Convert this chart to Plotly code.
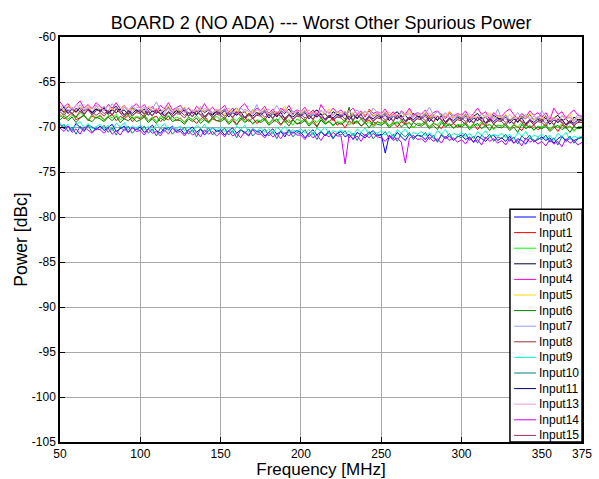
import plotly.graph_objects as go

# Frequency grid [MHz], 2.5 MHz steps from 50 to 375
freq = [50 + 2.5 * i for i in range(131)]

names = ["Input0", "Input1", "Input2", "Input3", "Input4", "Input5", "Input6",
         "Input7", "Input8", "Input9", "Input10", "Input11", "Input13", "Input14", "Input15"]

colors = ["#0000FF", "#FF0000", "#00FF00", "#000033", "#FF00CC", "#FFD700", "#008000",
          "#9999FF", "#993333", "#00FFCC", "#008080", "#000080", "#FF99CC", "#CC00FF", "#993366"]

input0 = [-69.7,-70.2,-69.9,-70.4,-69.6,-70.1,-70.5,-69.8,-70.0,-70.3,
          -69.9,-70.4,-70.0,-69.7,-70.5,-70.2,-69.9,-70.6,-70.1,-70.3,
          -70.0,-70.6,-70.2,-69.8,-70.4,-70.7,-70.1,-70.3,-69.9,-70.5,
          -70.2,-70.8,-70.3,-70.0,-70.6,-70.2,-70.9,-70.4,-70.1,-70.5,
          -70.3,-70.9,-70.4,-70.1,-70.7,-70.3,-70.6,-71.0,-70.2,-70.5,
          -70.4,-71.0,-70.6,-70.2,-70.8,-70.5,-71.1,-70.3,-70.7,-70.4,
          -70.6,-71.2,-70.7,-70.3,-70.9,-70.5,-71.0,-70.6,-71.3,-70.7,
          -70.5,-71.1,-70.8,-71.4,-70.6,-70.9,-71.2,-70.7,-70.4,-71.0,
          -70.8,-72.9,-70.9,-71.3,-70.6,-71.1,-71.5,-70.8,-71.2,-70.9,
          -71.0,-71.4,-70.8,-71.2,-71.6,-70.9,-71.3,-71.0,-71.5,-71.1,
          -70.9,-71.4,-71.1,-71.7,-71.0,-71.3,-71.6,-71.1,-70.9,-71.5,
          -71.2,-71.6,-71.0,-71.8,-71.3,-71.5,-71.9,-71.2,-71.6,-71.4,
          -71.1,-71.5,-71.2,-71.8,-71.3,-71.0,-71.6,-71.2,-71.5,-71.3,
          -71.1]
input1 = [-68.6,-69.1,-68.8,-68.4,-69.2,-68.9,-68.7,-69.3,-68.8,-69.0,
          -68.7,-69.2,-68.9,-68.6,-69.3,-68.8,-69.1,-68.7,-69.4,-68.9,
          -69.1,-68.7,-69.3,-69.0,-68.8,-69.4,-69.0,-69.2,-68.8,-69.3,
          -69.0,-69.5,-68.9,-69.2,-69.6,-69.1,-68.8,-69.4,-69.1,-69.3,
          -69.2,-68.9,-69.5,-69.1,-69.7,-69.2,-68.9,-69.4,-69.0,-69.6,
          -69.3,-69.0,-69.6,-69.2,-69.4,-69.8,-69.1,-69.5,-69.2,-69.7,
          -69.4,-69.1,-69.7,-69.3,-69.9,-69.2,-69.6,-69.4,-69.0,-69.8,
          -69.5,-70.1,-69.3,-69.7,-69.4,-69.9,-69.5,-69.2,-69.8,-69.4,
          -69.6,-69.3,-69.9,-69.5,-70.0,-69.4,-69.7,-69.5,-70.1,-69.6,
          -69.7,-69.4,-70.0,-69.6,-69.8,-70.2,-69.5,-69.9,-69.6,-70.0,
          -69.8,-69.5,-70.1,-69.7,-70.3,-69.6,-69.9,-69.7,-70.2,-69.8,
          -69.9,-69.6,-70.2,-69.8,-70.0,-70.4,-69.7,-70.1,-69.8,-70.3,
          -70.0,-69.7,-70.3,-69.9,-70.5,-69.8,-70.1,-69.9,-70.4,-70.0,
          -70.0]
input2 = [-68.9,-68.5,-69.1,-68.7,-69.0,-68.4,-68.8,-69.2,-68.6,-69.0,
          -68.8,-69.3,-68.7,-69.0,-68.6,-69.2,-68.9,-68.5,-69.1,-68.8,
          -69.0,-68.6,-69.3,-68.9,-69.4,-68.8,-69.1,-68.7,-69.2,-68.9,
          -69.1,-69.5,-68.9,-69.2,-68.7,-69.3,-69.0,-69.6,-69.1,-68.8,
          -69.2,-68.9,-69.5,-69.0,-69.3,-68.8,-69.4,-69.1,-69.7,-69.2,
          -69.3,-69.0,-69.6,-69.1,-69.4,-68.8,-69.5,-69.2,-69.8,-69.1,
          -69.4,-69.1,-69.7,-69.2,-69.5,-69.0,-69.6,-69.3,-69.9,-69.4,
          -69.5,-69.2,-69.8,-69.3,-69.6,-69.1,-69.7,-69.4,-70.0,-69.5,
          -69.6,-69.3,-69.9,-69.4,-69.7,-69.2,-69.8,-69.5,-70.1,-69.6,
          -69.7,-69.4,-70.0,-69.5,-69.8,-69.3,-69.9,-69.6,-70.2,-69.7,
          -69.8,-69.5,-70.1,-69.6,-69.9,-69.4,-70.0,-69.7,-70.3,-69.8,
          -69.9,-69.6,-70.2,-69.7,-70.0,-69.5,-70.1,-69.8,-70.4,-69.9,
          -70.0,-69.7,-70.3,-69.8,-70.1,-69.6,-70.2,-69.9,-70.5,-70.0,
          -69.9]
input3 = [-67.9,-68.3,-67.7,-68.1,-68.4,-67.8,-68.2,-67.9,-68.5,-68.0,
          -68.2,-67.8,-68.4,-68.0,-67.7,-68.3,-68.1,-68.6,-67.9,-68.2,
          -68.1,-68.5,-67.9,-68.3,-68.0,-68.6,-68.2,-67.8,-68.4,-68.1,
          -68.3,-67.9,-68.5,-68.2,-68.7,-68.0,-68.4,-68.1,-68.6,-68.2,
          -68.4,-68.0,-68.6,-68.2,-67.9,-68.5,-68.3,-68.8,-68.1,-68.4,
          -68.5,-68.1,-68.7,-68.3,-68.9,-68.2,-68.5,-68.0,-68.6,-68.3,
          -68.6,-68.2,-68.8,-68.4,-68.1,-68.7,-68.5,-69.0,-68.3,-68.6,
          -68.7,-68.3,-68.9,-68.5,-69.1,-68.4,-68.7,-68.2,-68.8,-68.5,
          -68.8,-68.4,-69.0,-68.6,-68.3,-68.9,-68.7,-69.2,-68.5,-68.8,
          -68.9,-68.5,-69.1,-68.7,-69.3,-68.6,-68.9,-68.4,-69.0,-68.7,
          -69.0,-68.6,-69.2,-68.8,-68.5,-69.1,-68.9,-69.4,-68.7,-69.0,
          -69.1,-68.7,-69.3,-68.9,-69.5,-68.8,-69.1,-68.6,-69.2,-68.9,
          -69.2,-68.8,-69.4,-69.0,-68.7,-69.3,-69.1,-69.6,-68.9,-69.2,
          -69.1]
input4 = [-67.2,-67.8,-67.4,-68.1,-67.6,-67.1,-67.9,-67.5,-68.0,-67.3,
          -67.7,-68.2,-67.5,-67.9,-67.3,-68.0,-67.6,-68.3,-67.8,-67.4,
          -67.9,-67.5,-68.2,-67.7,-68.4,-67.6,-68.0,-67.3,-68.1,-67.8,
          -67.6,-68.3,-67.9,-68.5,-67.7,-68.1,-67.4,-68.2,-67.8,-68.4,
          -68.0,-67.6,-68.4,-67.9,-68.6,-67.8,-67.4,-68.1,-68.5,-67.9,
          -68.2,-67.7,-68.5,-68.0,-68.7,-67.9,-68.3,-67.6,-68.4,-68.1,
          -68.3,-67.8,-68.6,-68.1,-68.8,-67.5,-68.2,-68.5,-67.9,-68.4,
          -68.1,-68.7,-68.3,-67.9,-68.6,-68.2,-68.9,-68.0,-68.5,-68.3,
          -68.5,-68.0,-68.8,-68.3,-69.0,-68.2,-68.6,-67.9,-68.7,-68.4,
          -68.6,-68.1,-68.9,-68.4,-68.2,-68.7,-69.1,-68.3,-68.8,-68.5,
          -68.7,-68.2,-69.0,-68.5,-67.9,-68.6,-68.3,-69.2,-68.4,-68.8,
          -68.8,-68.3,-68.0,-68.6,-69.1,-68.5,-68.9,-68.2,-68.7,-68.4,
          -68.9,-68.4,-69.2,-67.9,-68.6,-68.3,-69.0,-68.5,-68.1,-68.7,
          -68.8]
input5 = [-67.9,-68.2,-67.6,-68.0,-68.4,-67.8,-68.1,-67.7,-68.3,-67.9,
          -68.1,-67.7,-68.3,-67.9,-68.5,-68.0,-67.6,-68.2,-68.0,-68.4,
          -68.0,-68.4,-67.8,-68.2,-67.9,-68.5,-68.1,-67.7,-68.3,-68.1,
          -68.2,-67.8,-68.5,-68.1,-68.6,-68.0,-68.3,-67.9,-68.4,-68.2,
          -68.3,-68.7,-68.1,-68.4,-67.9,-68.5,-68.2,-68.8,-68.1,-68.4,
          -68.4,-68.0,-68.6,-68.2,-68.8,-68.1,-67.7,-68.5,-68.3,-68.7,
          -68.5,-68.1,-68.7,-68.3,-68.9,-68.2,-68.6,-68.0,-68.7,-68.4,
          -68.6,-68.2,-68.8,-68.4,-69.0,-68.3,-68.7,-68.1,-68.8,-68.5,
          -68.7,-68.3,-68.9,-68.5,-69.1,-68.4,-68.8,-68.2,-68.9,-68.6,
          -68.8,-68.4,-69.0,-68.6,-69.2,-68.5,-68.9,-68.3,-69.0,-68.7,
          -68.9,-68.5,-69.1,-68.7,-69.3,-68.6,-69.0,-68.4,-69.1,-68.8,
          -69.0,-68.6,-69.2,-68.8,-69.4,-68.7,-69.1,-68.5,-69.2,-68.9,
          -69.1,-68.7,-69.3,-68.9,-69.5,-68.8,-69.2,-68.6,-69.3,-69.0,
          -69.0]
input6 = [-69.2,-68.8,-69.3,-68.9,-69.5,-69.0,-68.7,-69.2,-69.4,-68.9,
          -69.1,-69.4,-68.9,-69.3,-68.8,-69.5,-69.1,-69.3,-68.9,-69.4,
          -69.2,-68.9,-69.5,-69.1,-69.6,-69.0,-69.3,-68.8,-69.4,-69.2,
          -69.3,-69.7,-69.1,-69.4,-69.0,-69.6,-69.2,-69.5,-68.9,-69.3,
          -69.4,-69.1,-69.7,-69.3,-69.8,-69.0,-69.5,-69.2,-69.6,-69.3,
          -69.5,-69.2,-69.8,-69.4,-69.1,-69.7,-69.3,-69.9,-69.2,-69.6,
          -69.6,-69.3,-69.9,-69.5,-70.0,-69.2,-69.7,-69.4,-69.8,-69.5,
          -69.7,-69.4,-67.8,-69.6,-69.3,-69.9,-69.5,-70.1,-69.4,-69.7,
          -69.8,-69.5,-70.1,-69.7,-69.4,-70.0,-69.6,-70.2,-69.5,-69.8,
          -69.9,-69.6,-70.2,-69.8,-70.3,-69.5,-70.0,-69.7,-70.1,-69.8,
          -70.0,-69.7,-70.3,-69.9,-69.6,-70.2,-69.8,-70.4,-69.7,-70.0,
          -70.1,-69.8,-70.4,-70.0,-70.6,-69.7,-70.2,-69.9,-70.3,-70.0,
          -70.2,-69.9,-70.5,-70.1,-69.8,-70.3,-70.0,-70.6,-69.9,-70.2,
          -70.1]
input7 = [-68.0,-67.6,-68.3,-67.8,-68.2,-67.5,-68.1,-67.9,-68.4,-67.7,
          -68.1,-67.7,-68.3,-67.4,-68.0,-68.4,-67.8,-68.2,-67.6,-68.1,
          -68.2,-67.8,-68.4,-68.0,-67.2,-68.1,-68.5,-67.9,-68.3,-67.8,
          -68.3,-67.9,-68.5,-68.1,-68.6,-67.7,-68.2,-68.0,-68.4,-68.1,
          -68.4,-68.0,-68.6,-68.2,-68.7,-67.9,-68.3,-68.1,-68.5,-67.5,
          -68.5,-68.1,-68.7,-68.3,-67.6,-68.4,-68.0,-68.6,-68.2,-68.5,
          -68.6,-68.2,-68.8,-68.4,-68.9,-68.1,-68.5,-68.3,-68.7,-68.2,
          -68.7,-68.3,-68.9,-68.5,-68.1,-68.6,-68.2,-68.8,-67.9,-68.4,
          -68.8,-68.4,-69.0,-68.6,-69.1,-68.3,-68.7,-68.5,-68.9,-68.4,
          -68.9,-68.5,-67.8,-68.7,-68.3,-68.8,-68.4,-69.0,-68.6,-68.9,
          -69.0,-68.6,-69.2,-68.8,-69.3,-68.5,-68.9,-68.7,-69.1,-68.0,
          -69.1,-68.7,-69.3,-68.9,-68.4,-69.0,-68.6,-69.2,-68.8,-69.1,
          -68.2,-68.8,-69.4,-69.0,-69.5,-68.7,-69.1,-68.9,-69.3,-68.6,
          -69.0]
input8 = [-68.3,-68.7,-68.1,-68.5,-68.9,-68.2,-68.6,-68.0,-68.4,-68.7,
          -68.4,-68.8,-68.2,-68.6,-68.0,-68.5,-68.9,-68.3,-68.7,-68.4,
          -68.5,-68.9,-68.3,-68.7,-68.1,-68.6,-69.0,-68.4,-68.8,-68.5,
          -68.6,-69.0,-68.4,-68.8,-68.2,-68.7,-69.1,-68.5,-68.9,-68.6,
          -68.7,-69.1,-68.5,-68.9,-68.3,-68.8,-69.2,-68.6,-69.0,-68.7,
          -68.8,-69.2,-68.6,-69.0,-68.4,-68.9,-69.3,-68.7,-69.1,-68.8,
          -68.9,-69.3,-68.7,-69.1,-68.5,-69.0,-69.4,-68.8,-69.2,-68.9,
          -69.0,-69.4,-68.8,-69.2,-68.6,-69.1,-69.5,-68.9,-69.3,-69.0,
          -69.1,-69.5,-68.9,-69.3,-68.7,-69.2,-69.6,-69.0,-69.4,-69.1,
          -69.2,-69.6,-69.0,-69.4,-68.8,-69.3,-69.7,-69.1,-69.5,-69.2,
          -69.3,-69.7,-69.1,-69.5,-68.9,-69.4,-69.8,-69.2,-69.6,-69.3,
          -69.4,-69.8,-69.2,-69.6,-69.0,-69.5,-69.9,-69.3,-69.7,-69.4,
          -69.5,-69.9,-69.3,-69.7,-69.1,-69.6,-70.0,-69.4,-69.8,-69.5,
          -69.5]
input9 = [-69.5,-70.0,-69.7,-70.3,-69.8,-69.4,-70.1,-69.6,-70.2,-69.9,
          -69.7,-70.2,-69.8,-70.4,-69.6,-70.0,-69.5,-70.3,-69.9,-70.1,
          -69.8,-70.3,-69.9,-70.5,-69.7,-70.1,-69.6,-70.4,-70.0,-70.2,
          -69.9,-70.4,-70.0,-70.6,-69.8,-70.2,-69.7,-70.5,-70.1,-70.3,
          -70.0,-70.5,-70.1,-70.7,-69.9,-70.3,-69.8,-70.6,-70.2,-70.4,
          -70.1,-70.6,-70.2,-70.8,-70.0,-70.4,-69.9,-70.7,-70.3,-70.5,
          -70.2,-70.7,-70.3,-70.9,-70.1,-70.5,-70.0,-70.8,-70.4,-70.6,
          -70.3,-70.8,-70.4,-71.0,-70.2,-70.6,-70.1,-70.9,-70.5,-70.7,
          -70.4,-70.9,-70.5,-71.1,-70.3,-70.7,-70.2,-71.0,-70.6,-70.8,
          -70.5,-71.0,-70.6,-71.2,-70.4,-70.8,-70.3,-71.1,-70.7,-70.9,
          -70.6,-71.1,-70.7,-71.3,-70.5,-70.9,-70.4,-71.2,-70.8,-71.0,
          -70.7,-71.2,-70.8,-71.4,-70.6,-71.0,-70.5,-71.3,-70.9,-71.1,
          -70.8,-71.3,-70.9,-71.5,-70.7,-71.1,-70.6,-71.4,-71.0,-71.2,
          -71.0]
input10 = [-70.2,-69.7,-70.5,-70.0,-70.8,-69.9,-70.3,-69.8,-70.6,-70.1,
           -70.3,-69.8,-70.6,-70.1,-70.9,-70.0,-70.4,-69.9,-70.7,-70.2,
           -70.4,-69.9,-70.7,-70.2,-71.0,-70.1,-70.5,-70.0,-70.8,-70.3,
           -70.5,-70.0,-70.8,-70.3,-71.1,-70.2,-70.6,-70.1,-70.9,-70.4,
           -70.6,-70.1,-70.9,-70.4,-71.2,-70.3,-70.7,-70.2,-71.0,-70.5,
           -70.7,-70.2,-71.0,-70.5,-71.3,-70.4,-70.8,-70.3,-71.1,-70.6,
           -70.8,-70.3,-71.1,-70.6,-71.4,-70.5,-70.9,-70.4,-71.2,-70.7,
           -70.9,-70.4,-71.2,-70.7,-71.5,-70.6,-71.0,-70.5,-71.3,-70.8,
           -71.0,-70.5,-71.3,-70.8,-71.6,-70.7,-71.1,-70.6,-71.4,-70.9,
           -71.1,-70.6,-71.4,-70.9,-71.7,-70.8,-71.2,-70.7,-71.5,-71.0,
           -71.2,-70.7,-71.5,-71.0,-71.8,-70.9,-71.3,-70.8,-71.6,-71.1,
           -71.3,-70.8,-71.6,-71.1,-71.9,-71.0,-71.4,-70.9,-71.7,-71.2,
           -71.4,-70.9,-71.7,-71.2,-72.0,-71.1,-71.5,-71.0,-71.8,-71.3,
           -71.2]
input11 = [-68.2,-67.8,-68.5,-68.0,-68.3,-67.9,-68.6,-68.1,-68.4,-68.0,
           -68.3,-67.9,-68.6,-68.1,-68.4,-68.0,-68.7,-68.2,-68.5,-68.1,
           -68.4,-68.0,-68.7,-68.2,-68.5,-68.1,-68.8,-68.3,-68.6,-68.2,
           -68.5,-68.1,-68.8,-68.3,-68.6,-68.2,-68.9,-68.4,-68.7,-68.3,
           -68.6,-68.2,-68.9,-68.4,-68.7,-68.3,-69.0,-68.5,-68.8,-68.4,
           -68.7,-68.3,-69.0,-68.5,-68.8,-68.4,-69.1,-68.6,-68.9,-68.5,
           -68.8,-68.4,-69.1,-68.6,-68.9,-68.5,-69.2,-68.7,-69.0,-68.6,
           -68.9,-68.5,-69.2,-68.7,-69.0,-68.6,-69.3,-68.8,-69.1,-68.7,
           -69.0,-68.6,-69.3,-68.8,-69.1,-68.7,-69.4,-68.9,-69.2,-68.8,
           -69.1,-68.7,-69.4,-68.9,-69.2,-68.8,-69.5,-69.0,-69.3,-68.9,
           -69.2,-68.8,-69.5,-69.0,-69.3,-68.9,-69.6,-69.1,-69.4,-69.0,
           -69.3,-68.9,-69.6,-69.1,-69.4,-69.0,-69.7,-69.2,-69.5,-69.1,
           -69.4,-69.0,-69.7,-69.2,-69.5,-69.1,-69.8,-69.3,-69.6,-69.2,
           -69.3]
input13 = [-67.6,-68.1,-67.7,-68.2,-67.5,-67.9,-68.3,-67.8,-68.0,-67.6,
           -67.8,-68.2,-67.6,-68.1,-67.9,-68.4,-67.7,-68.0,-68.3,-67.8,
           -67.9,-68.3,-67.7,-68.2,-68.0,-68.5,-67.8,-68.1,-68.4,-67.9,
           -68.0,-68.4,-67.8,-68.3,-68.1,-68.6,-67.9,-68.2,-68.5,-68.0,
           -68.1,-68.5,-67.9,-68.4,-68.2,-68.7,-68.0,-68.3,-68.6,-68.1,
           -68.2,-68.6,-68.0,-68.5,-68.3,-68.8,-68.1,-68.4,-68.7,-68.2,
           -68.3,-68.7,-68.1,-68.6,-68.4,-68.9,-68.2,-68.5,-68.8,-68.3,
           -68.4,-68.8,-68.2,-68.7,-68.5,-69.0,-68.3,-68.6,-68.9,-68.4,
           -68.5,-68.9,-68.3,-68.8,-68.6,-69.1,-68.4,-68.7,-69.0,-68.5,
           -68.6,-69.0,-68.4,-68.9,-68.7,-69.2,-68.5,-68.8,-69.1,-68.6,
           -68.7,-69.1,-68.5,-69.0,-68.8,-69.3,-68.6,-68.9,-69.2,-68.7,
           -68.8,-69.2,-68.6,-69.1,-68.9,-69.4,-68.7,-69.0,-69.3,-68.8,
           -68.9,-69.3,-68.7,-69.2,-69.0,-69.5,-68.8,-69.1,-69.4,-68.9,
           -69.0]
input14 = [-70.1,-70.5,-69.9,-70.6,-70.2,-70.8,-70.0,-70.4,-70.7,-70.2,
           -70.3,-70.7,-70.1,-70.8,-70.4,-70.9,-70.2,-70.6,-70.0,-70.5,
           -70.4,-70.9,-70.2,-70.7,-70.5,-71.0,-70.3,-70.8,-70.1,-70.6,
           -70.5,-71.0,-70.4,-70.9,-70.6,-71.1,-70.3,-70.8,-70.5,-71.0,
           -70.6,-71.1,-70.4,-71.0,-70.7,-71.2,-70.5,-70.9,-70.3,-70.8,
           -70.8,-71.2,-70.6,-71.1,-70.8,-71.3,-70.6,-71.0,-70.5,-70.9,
           -70.9,-71.4,-70.7,-71.2,-70.9,-71.5,-70.8,-71.1,-70.6,-71.0,
           -71.0,-74.1,-70.9,-71.3,-71.0,-71.6,-70.8,-71.2,-70.7,-71.1,
           -71.2,-71.6,-71.0,-71.5,-71.2,-71.7,-74.0,-71.3,-70.9,-71.4,
           -71.3,-71.7,-71.1,-71.6,-71.3,-71.8,-71.0,-71.5,-71.2,-71.7,
           -71.4,-71.9,-71.2,-71.7,-71.4,-72.0,-71.1,-71.6,-71.3,-71.8,
           -71.5,-72.0,-71.3,-71.8,-71.5,-72.1,-71.2,-71.7,-71.4,-71.9,
           -71.6,-72.1,-71.4,-71.9,-71.6,-72.2,-71.3,-71.8,-71.5,-72.0,
           -71.7]
input15 = [-68.0,-68.4,-68.1,-68.6,-67.9,-68.3,-68.5,-68.1,-68.7,-68.2,
           -68.1,-68.5,-68.2,-68.7,-68.0,-68.4,-68.6,-68.2,-68.8,-68.3,
           -68.2,-68.6,-68.3,-68.8,-68.1,-68.5,-68.7,-68.3,-68.9,-68.4,
           -68.3,-68.7,-68.4,-68.9,-68.2,-68.6,-68.8,-68.4,-69.0,-68.5,
           -68.4,-68.8,-68.5,-69.0,-68.3,-68.7,-68.9,-68.5,-69.1,-68.6,
           -68.5,-68.9,-68.6,-69.1,-68.4,-68.8,-69.0,-68.6,-69.2,-68.7,
           -68.6,-69.0,-68.7,-69.2,-68.5,-68.9,-69.1,-68.7,-69.3,-68.8,
           -68.7,-69.1,-68.8,-69.3,-68.6,-69.0,-69.2,-68.8,-69.4,-68.9,
           -68.8,-69.2,-68.9,-69.4,-68.7,-69.1,-69.3,-68.9,-69.5,-69.0,
           -68.9,-69.3,-69.0,-69.5,-68.8,-69.2,-69.4,-69.0,-69.6,-69.1,
           -69.0,-69.4,-69.1,-69.6,-68.9,-69.3,-69.5,-69.1,-69.7,-69.2,
           -69.1,-69.5,-69.2,-69.7,-69.0,-69.4,-69.6,-69.2,-69.8,-69.3,
           -69.2,-69.6,-69.3,-69.8,-69.1,-69.5,-69.7,-69.3,-69.9,-69.4,
           -69.3]

series = [input0, input1, input2, input3, input4, input5, input6, input7,
          input8, input9, input10, input11, input13, input14, input15]

x_ticks = [50, 100, 150, 200, 250, 300, 350, 375]
y_ticks = [-105, -100, -95, -90, -85, -80, -75, -70, -65, -60]

FONT = "Liberation Sans, Arial, sans-serif"

fig = go.Figure()
for name, col, vals in zip(names, colors, series):
    fig.add_trace(go.Scatter(x=freq[:len(vals)], y=vals, mode="lines", name=name,
                             line=dict(color=col, width=1), showlegend=False))

# MATLAB-style legend box drawn in paper coordinates
L_X0, L_X1, L_Y0, L_Y1 = 0.862, 1.0, 0.0, 0.575
fig.add_shape(type="rect", xref="paper", yref="paper", x0=L_X0, x1=L_X1, y0=L_Y0, y1=L_Y1,
              line=dict(color="black", width=1.5), fillcolor="white", layer="above")
row_h = 15.6 / 405.0
top_y = (442 - 217) / 405.0
for i, (name, col) in enumerate(zip(names, colors)):
    yy = top_y - i * row_h
    fig.add_shape(type="line", xref="paper", yref="paper", x0=0.870, x1=0.912, y0=yy, y1=yy,
                  line=dict(color=col, width=1), layer="above")
    fig.add_annotation(xref="paper", yref="paper", x=0.914, y=yy, text=name, showarrow=False,
                       xanchor="left", yanchor="middle", font=dict(family=FONT, size=12, color="black"))

axis_common = dict(showline=True, linecolor="black", linewidth=1.5, mirror="ticks",
                   ticks="inside", ticklen=5, tickcolor="black", showgrid=True,
                   gridcolor="#a8a8a8", gridwidth=1, zeroline=False, automargin=False,
                   tickfont=dict(family=FONT, size=12, color="black"))

fig.update_layout(
    width=599, height=479,
    margin=dict(l=60, r=17, t=37, b=37),
    paper_bgcolor="white", plot_bgcolor="white",
    title=dict(text="BOARD 2 (NO ADA) --- Worst Other Spurious Power", x=0.536, xanchor="center",
               y=0.952, yanchor="middle", font=dict(family=FONT, size=18, color="black")),
    xaxis=dict(range=[50, 375], tickvals=x_ticks, ticktext=[str(v) for v in x_ticks],
               title=dict(text="Frequency [MHz]", font=dict(family=FONT, size=17, color="black"), standoff=5),
               **axis_common),
    yaxis=dict(range=[-105, -60], tickvals=y_ticks, ticktext=[str(v) for v in y_ticks],
               title=dict(text="Power [dBc]", font=dict(family=FONT, size=17.5, color="black"), standoff=0),
               **axis_common),
    showlegend=False,
)

fig.write_html("out.html")
